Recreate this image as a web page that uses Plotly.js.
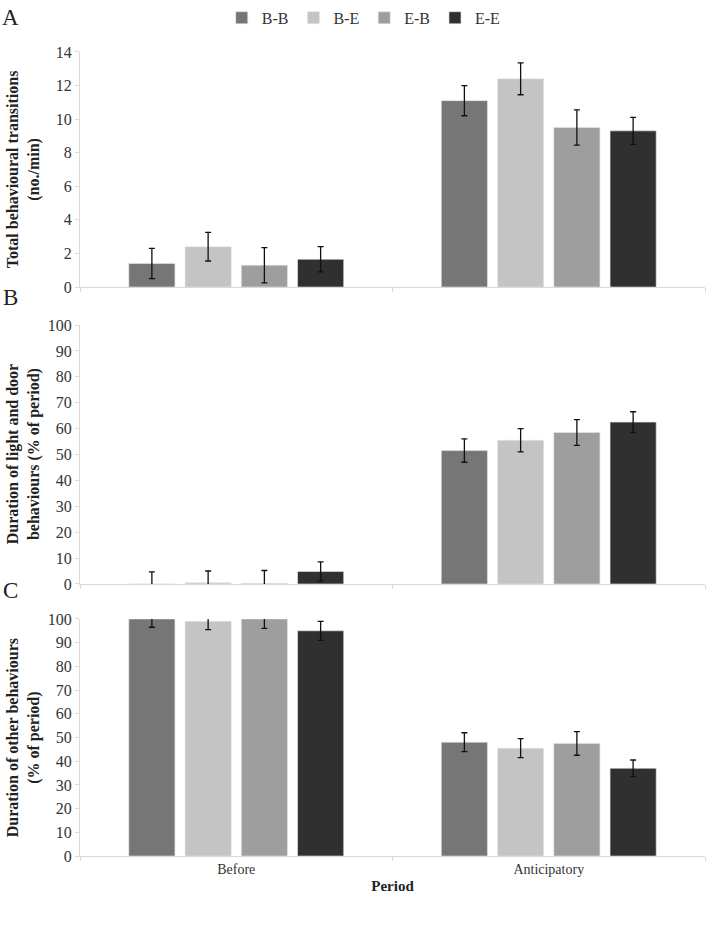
<!DOCTYPE html>
<html>
<head>
<meta charset="utf-8">
<script src="https://cdn.plot.ly/plotly-3.0.1.min.js"></script>
<style>html,body{margin:0;padding:0;background:#fff;}#chart{width:716px;height:926px;}</style>
</head>
<body>
<div id="chart"></div>
<script>
// Categories and groups
const periods = ["Before", "Anticipatory"];
const groups = ["B-B", "B-E", "E-B", "E-E"];
const groupColors = ["#767676", "#c4c4c4", "#9e9e9e", "#303030"];

// Panel A: total behavioural transitions (no./min), per group [B-B, B-E, E-B, E-E]
const transBefore = [1.4, 2.4, 1.3, 1.65];
const transBeforeErr = [0.9, 0.85, 1.05, 0.75];
const transAntic = [11.1, 12.4, 9.5, 9.3];
const transAnticErr = [0.9, 0.95, 1.05, 0.8];

// Panel B: duration of light and door behaviours (% of period)
const lightBefore = [0, 0.5, 0.2, 4.8];
const lightBeforeErr = [4.7, 4.5, 5.0, 3.7];
const lightAntic = [51.5, 55.5, 58.5, 62.5];
const lightAnticErr = [4.5, 4.5, 5.0, 4.0];

// Panel C: duration of other behaviours (% of period)
const otherBefore = [100, 99, 100, 95];
const otherBeforeErr = [3.5, 3.5, 4.0, 4.0];
const otherAntic = [48, 45.5, 47.5, 37];
const otherAnticErr = [4, 4, 5, 3.5];

const panels = [
  {before: transBefore, beforeErr: transBeforeErr, antic: transAntic, anticErr: transAnticErr, xa: "x", ya: "y"},
  {before: lightBefore, beforeErr: lightBeforeErr, antic: lightAntic, anticErr: lightAnticErr, xa: "x2", ya: "y2"},
  {before: otherBefore, beforeErr: otherBeforeErr, antic: otherAntic, anticErr: otherAnticErr, xa: "x3", ya: "y3"}
];

const traces = [];
panels.forEach((p, pi) => {
  groups.forEach((g, gi) => {
    traces.push({
      type: "bar",
      name: g,
      x: periods,
      y: [p.before[gi], p.antic[gi]],
      error_y: {type: "data", array: [p.beforeErr[gi], p.anticErr[gi]], visible: true,
                color: "#111", thickness: 1.3, width: 3},
      marker: {color: groupColors[gi], line: {width: 0.6, color: "#e6e6e6"}},
      xaxis: p.xa, yaxis: p.ya,
      showlegend: pi === 0,
      legendgroup: g
    });
  });
});

const serif = "Liberation Serif, Times New Roman, serif";
const axisX = (show) => ({
  type: "category", range: [-0.5, 1.5],
  showline: true, linecolor: "#d9d9d9", linewidth: 1,
  ticks: "outside", tickson: "boundaries", ticklen: 4, tickcolor: "#d9d9d9",
  showticklabels: show, showgrid: false, zeroline: false,
  tickfont: {family: serif, size: 14, color: "#333"}
});
const axisY = (range, dtick, domain) => ({
  range: range, dtick: dtick, domain: domain,
  showline: true, linecolor: "#d9d9d9", linewidth: 1,
  ticks: "outside", ticklen: 4, tickcolor: "#d9d9d9",
  showgrid: false, zeroline: false,
  tickfont: {family: serif, size: 16, color: "#333"}
});

const layout = {
  width: 716, height: 926,
  margin: {l: 80, r: 11, t: 0, b: 70},
  paper_bgcolor: "#fff", plot_bgcolor: "#fff",
  font: {family: serif, color: "#222"},
  barmode: "group", bargap: 0.28, bargroupgap: 0.18,
  showlegend: true,
  legend: {orientation: "h", x: 0.454, xanchor: "center", y: 0.999, yanchor: "top",
           font: {family: serif, size: 16, color: "#333"}, itemwidth: 30, tracegroupgap: 0,
           bgcolor: "rgba(0,0,0,0)"},
  xaxis: Object.assign(axisX(false), {anchor: "y"}),
  xaxis2: Object.assign(axisX(false), {anchor: "y2"}),
  xaxis3: Object.assign(axisX(true), {anchor: "y3",
    title: {text: "<b>Period</b>", font: {family: serif, size: 15, color: "#222"}, standoff: 4}}),
  yaxis: Object.assign(axisY([0, 14], 2, [0.6647, 0.9393]), {anchor: "x"}),
  yaxis2: Object.assign(axisY([0, 100], 10, [0.3178, 0.6203]), {anchor: "x2"}),
  yaxis3: Object.assign(axisY([0, 100], 10, [0, 0.2769]), {anchor: "x3"}),
  annotations: [
    {text: "A", xref: "paper", yref: "paper", x: -0.112, y: 0.979, xanchor: "center", yanchor: "middle",
     showarrow: false, font: {family: serif, size: 23, color: "#222"}},
    {text: "B", xref: "paper", yref: "paper", x: -0.112, y: 0.652, xanchor: "center", yanchor: "middle",
     showarrow: false, font: {family: serif, size: 23, color: "#222"}},
    {text: "C", xref: "paper", yref: "paper", x: -0.112, y: 0.3107, xanchor: "center", yanchor: "middle",
     showarrow: false, font: {family: serif, size: 23, color: "#222"}},
    {text: "<b>Total behavioural transitions<br>(no./min)</b>", xref: "paper", yref: "paper",
     x: -0.09, y: 0.802, textangle: -90, xanchor: "center", yanchor: "middle", showarrow: false,
     font: {family: serif, size: 16, color: "#222"}},
    {text: "<b>Duration of light and door<br>behaviours (% of period)</b>", xref: "paper", yref: "paper",
     x: -0.09, y: 0.469, textangle: -90, xanchor: "center", yanchor: "middle", showarrow: false,
     font: {family: serif, size: 16, color: "#222"}},
    {text: "<b>Duration of other behaviours<br>(% of period)</b>", xref: "paper", yref: "paper",
     x: -0.09, y: 0.1384, textangle: -90, xanchor: "center", yanchor: "middle", showarrow: false,
     font: {family: serif, size: 16, color: "#222"}}
  ]
};

Plotly.newPlot("chart", traces, layout, {displayModeBar: false, staticPlot: true});
</script>
</body>
</html>
